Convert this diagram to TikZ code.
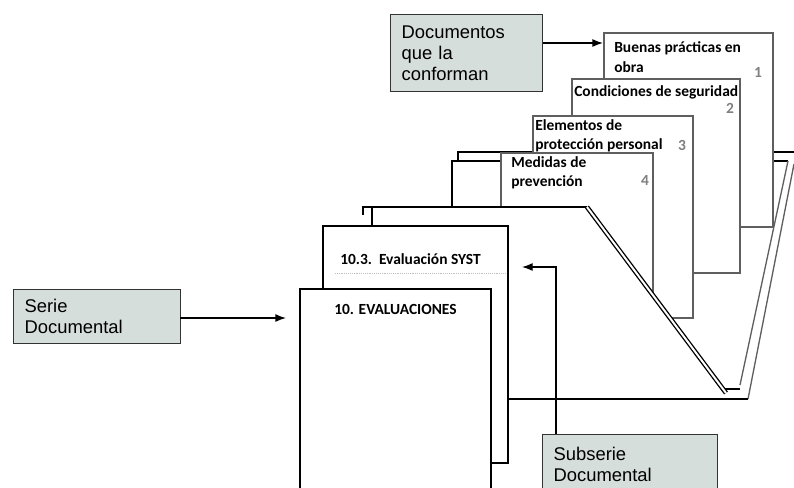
\documentclass[tikz,border=0pt]{standalone}
\usepackage{fontspec}
\newfontfamily\boxfont{Liberation Sans}
\newfontfamily\pagefont{Carlito}
\usetikzlibrary{positioning}
\usetikzlibrary{arrows.meta}
\definecolor{boxfill}{RGB}{214,222,219}
\definecolor{docgray}{RGB}{95,95,95}
\tikzset{
label box/.style={
draw=black!80,
fill=boxfill,
anchor=north west,
align=left,
inner xsep=8.5pt,
font=\boxfont\fontsize{13.8}{15.75}\selectfont},
doc/.style={draw=docgray, line width=1.3pt, fill=white},
sheet/.style={draw=black, line width=1.8pt, fill=white},
title/.style={
anchor=west,
align=left,
inner sep=0pt,
font=\pagefont\bfseries\fontsize{11.6}{14.5}\selectfont},
number/.style={inner sep=0pt, text=gray, font=\pagefont\bfseries\fontsize{11.6}{14}\selectfont},
link/.style={-{Latex[length=8pt,width=6pt]}, line width=1pt}}

\begin{document}
\begin{tikzpicture}[x=0.75pt, y=-0.75pt]
\clip (0,0) rectangle (794,487);
\useasboundingbox (0,0) rectangle (794,487);

% back of the folder
\draw[line width=2pt] (458,160) -- (458,152) -- (794,152);
\draw[line width=1.3pt] (452,207) -- (452,161) -- (788,161);
\draw[docgray, line width=1pt] (788,161) -- (740,385);
\draw[docgray, line width=1pt] (794,164) -- (748,399);

% documents
\draw[doc] (604,33) rectangle (773,227);
\draw[doc] (572,79) rectangle (740,273);
\draw[doc] (533,116) rectangle (693,318);
\draw[doc] (501,153) rectangle (653,300);
\node[title] (t1) at (614,57) {Buenas prácticas en\\obra};
\node[number] (n1) at (758,72) {1};
\node[title] (t2) at (574,92) {Condiciones de seguridad};
\node[number] (n2) at (730,108) {2};
\node[title] (t3) at (535,136) {Elementos de\\protección personal};
\node[number] (n3) at (682,145) {3};
\node[title] (t4) at (511,173) {Medidas de\\prevención};
\node[number] (n4) at (645,180) {4};

% front of the folder
\fill[white] (363,207) -- (587,207) -- (725,392) -- (725,399) -- (363,399) -- cycle;
\draw[line width=1.6pt] (363,215) -- (363,207) -- (587,207);
\draw[line width=1pt, double=white, double distance=1.5pt] (587,207) -- (726,393);
\draw[line width=1.3pt] (725,389) -- (740,389);
\draw[line width=1.6pt] (508,399) -- (748,399);
\draw[line width=1.6pt] (372,207) -- (372,226);

% subserie and serie
\draw[sheet] (323,226) rectangle (508,463);
\draw[gray!50, densely dotted] (335,273) -- (506,273);
\node[title] (t103) at (340,259) {10.3.\ \ Evaluación SYST};
\draw[sheet] (300,289) rectangle (491,500);
\node[title] (t10) at (334,309) {10. EVALUACIONES};

\node[label box, text width=97pt, minimum height=57.75pt] (docs) at (390,14) {Documentos\\que la\\conforman};
\node[label box, text width=108pt, minimum height=40.5pt] (serie) at (13,289) {Serie\\Documental};
\node[label box, text width=114pt, minimum height=45pt] (subserie) at (542,434) {Subserie\\Documental};

\coordinate (docs tip) at (603,43);
\coordinate (serie tip) at (286,318);
\coordinate (sub tip) at (522,267);
\draw[link] (docs.east |- docs tip) -- (docs tip);
\draw[link] (serie.east |- serie tip) -- (serie tip);
\draw[link] ([xshift=10.5pt]subserie.north west) |- (sub tip);
\end{tikzpicture}
\end{document}
